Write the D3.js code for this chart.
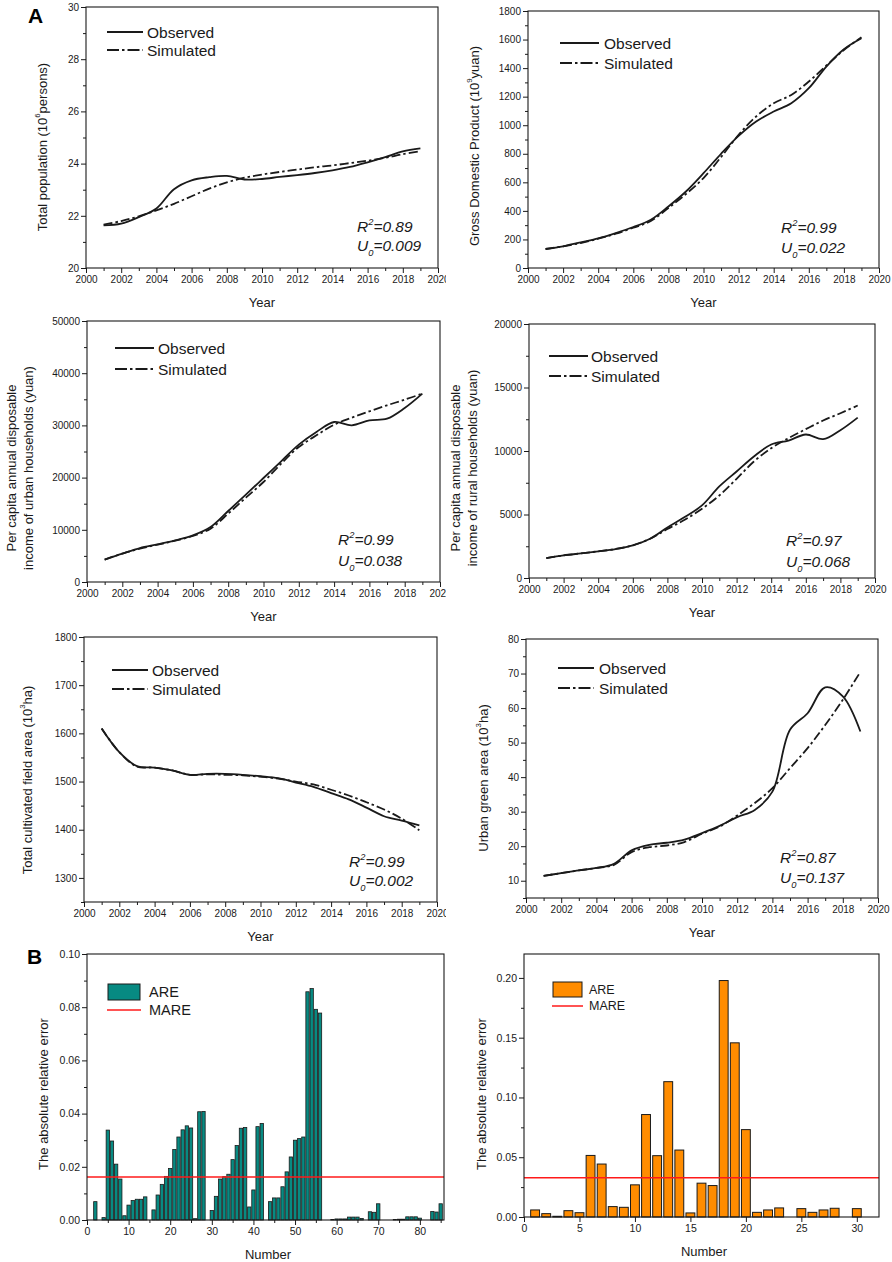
<!DOCTYPE html>
<html><head><meta charset="utf-8">
<script src="https://cdn.jsdelivr.net/npm/d3@7"></script>
<style>
body{margin:0;background:#fff}
svg{display:block;font-family:"Liberation Sans",Arial,Helvetica,sans-serif}
</style>
</head><body>
<svg id="c" width="892" height="1262"></svg>
<script>
// ---------------- DATA ----------------
const years = [2001,2002,2003,2004,2005,2006,2007,2008,2009,2010,2011,2012,2013,2014,2015,2016,2017,2018,2019];

const populationObserved = [21.63,21.70,21.95,22.28,23.02,23.36,23.48,23.53,23.39,23.41,23.49,23.56,23.64,23.74,23.87,24.05,24.25,24.47,24.58];
const populationSimulated = [21.66,21.80,21.98,22.21,22.46,22.75,23.04,23.28,23.46,23.58,23.68,23.77,23.86,23.93,24.02,24.11,24.22,24.36,24.47];

const gdpObserved = [133,152,180,208,245,287,338,431,536,664,800,925,1026,1096,1154,1259,1411,1532,1609];
const gdpSimulated = [133,152,175,205,240,282,329,420,518,630,777,933,1061,1154,1212,1306,1418,1527,1616];

const urbanIncomeObserved = [4280,5430,6510,7215,7980,8940,10540,13600,16730,19920,23120,26310,28740,30650,30010,30970,31290,33330,36080];
const urbanIncomeSimulated = [4280,5430,6390,7150,7920,8810,10220,13090,16160,19160,22670,25860,28100,30140,31480,32700,33850,34930,36080];

const ruralIncomeObserved = [1573,1782,1940,2097,2280,2569,3093,3985,4797,5714,7209,8388,9567,10510,10825,11300,10930,11640,12630];
const ruralIncomeSimulated = [1573,1782,1940,2097,2280,2569,3093,3853,4587,5452,6500,7810,9175,10220,11010,11720,12400,12975,13580];

const cultivatedObserved = [1610,1561,1532,1529,1523,1514,1516,1516,1514,1511,1507,1498,1489,1476,1463,1446,1428,1419,1409];
const cultivatedSimulated = [1610,1561,1531,1529,1523,1514,1515,1514,1513,1510,1506,1500,1494,1483,1471,1457,1442,1423,1399];

const greenObserved = [11.4,12.2,13.0,13.7,14.9,18.8,20.4,21.0,21.9,23.8,25.9,28.4,30.5,35.8,53.7,58.5,66.0,63.4,53.2];
const greenSimulated = [11.4,12.2,13.0,13.7,14.6,18.3,19.7,20.2,21.2,23.6,25.7,28.9,32.5,36.8,42.6,48.4,55.1,62.4,70.5];

const r2Values = ["0.89","0.99","0.99","0.97","0.99","0.87"];
const u0Values = ["0.009","0.022","0.038","0.068","0.002","0.137"];

const areNumbersA = [1,2,3,4,5,6,7,8,9,10,11,12,13,14,15,16,17,18,19,20,21,22,23,24,25,26,27,28,29,30,31,32,33,34,35,36,37,38,39,40,41,42,43,44,45,46,47,48,49,50,51,52,53,54,55,56,57,58,59,60,61,62,63,64,65,66,67,68,69,70,71,72,73,74,75,76,77,78,79,80,81,82,83,84,85];
const areValuesA = [0,0.0069,0,0.0009,0.0338,0.0297,0.0210,0.0154,0.0016,0.0056,0.0073,0.0078,0.0078,0.0087,0,0.0038,0.0094,0.0134,0.0164,0.0194,0.0265,0.0312,0.0339,0.0354,0.0346,0.0005,0.0407,0.0408,0,0.0036,0.0089,0.0154,0.0163,0.0172,0.0227,0.0280,0.0345,0.0348,0.0049,0.0113,0.0351,0.0363,0,0.0069,0.0083,0.0083,0.0125,0.0181,0.0237,0.0300,0.0306,0.0312,0.0858,0.0870,0.0792,0.0778,0,0,0.0002,0.0004,0.0004,0.0004,0.0011,0.0011,0.0011,0.0006,0,0.0031,0.0029,0.0061,0,0,0,0.0002,0.0003,0.0003,0.0012,0.0012,0.0012,0.0007,0,0,0.0032,0.0030,0.0061];
const mareA = 0.0162;

const areNumbersB = [1,2,3,4,5,6,7,8,9,10,11,12,13,14,15,16,17,18,19,20,21,22,23,24,25,26,27,28,29,30];
const areValuesB = [0.0059,0.0028,0.0006,0.0053,0.0036,0.0515,0.0443,0.0087,0.0081,0.0269,0.0857,0.0513,0.1132,0.0560,0.0034,0.0283,0.0263,0.1978,0.1457,0.0731,0.0039,0.0059,0.0076,0,0.0070,0.0039,0.0059,0.0073,0,0.0070];
const mareB = 0.0328;

const xYearMajor = [2000,2002,2004,2006,2008,2010,2012,2014,2016,2018,2020];
const xYearMinor = [2001,2003,2005,2007,2009,2011,2013,2015,2017,2019];

// ---------------- DRAW ----------------
const svg = d3.select("#c");
const defs = svg.append("defs");
defs.append("clipPath").attr("id","clipL").append("rect").attr("x",0).attr("y",0).attr("width",446).attr("height",1262);

const INK = "#1a1a1a";

function styleAxis(sel, fs){
  sel.select(".domain").remove();
  sel.selectAll(".tick line").attr("stroke",INK).attr("stroke-width",1);
  sel.selectAll(".tick text").attr("fill",INK).attr("font-size",fs).attr("font-family",null);
}

function addTexts(g, x, y, parts, fs, extra){
  const t = g.append("text").attr("x",x).attr("y",y).attr("font-size",fs).attr("fill",INK);
  if (extra) extra(t);
  parts.forEach(p=>{
    const s = t.append("tspan").text(p.t);
    if (p.sup){ s.attr("font-size",fs*0.6).attr("dy",-fs*0.4); }
    else if (p.sub){ s.attr("font-size",fs*0.6).attr("dy",fs*0.35); }
    if (p.back) s.attr("dy",p.back);
  });
  return t;
}

function axesFrame(g, x, y, p, xMaj, xMin, xFmt, yMaj, yMin, yFmt, fs){
  const b = g.append("g").attr("transform",`translate(0,${p.b})`)
    .call(d3.axisBottom(x).tickValues(xMin).tickSize(3).tickFormat(""));
  styleAxis(b, fs);
  const b2 = g.append("g").attr("transform",`translate(0,${p.b})`)
    .call(d3.axisBottom(x).tickValues(xMaj).tickSize(5).tickPadding(3).tickFormat(xFmt));
  styleAxis(b2, fs);
  const l = g.append("g").attr("transform",`translate(${p.l},0)`)
    .call(d3.axisLeft(y).tickValues(yMin).tickSize(3).tickFormat(""));
  styleAxis(l, fs);
  const l2 = g.append("g").attr("transform",`translate(${p.l},0)`)
    .call(d3.axisLeft(y).tickValues(yMaj).tickSize(5).tickPadding(2).tickFormat(yFmt));
  styleAxis(l2, fs);
  g.append("rect").attr("x",p.l).attr("y",p.t).attr("width",p.r-p.l).attr("height",p.b-p.t)
    .attr("fill","none").attr("stroke",INK).attr("stroke-width",1.1);
}

function drawLinePanel(p){
  const g = svg.append("g");
  if (p.clip) g.attr("clip-path","url(#clipL)");
  const x = d3.scaleLinear().domain([2000,2020]).range([p.l,p.r]);
  const y = d3.scaleLinear().domain(p.yd).range([p.b,p.t]);
  axesFrame(g, x, y, p, xYearMajor, xYearMinor, d3.format("d"), p.yMaj, p.yMin, d3.format("d"), 10);

  const line = d3.line().x((d,i)=>x(years[i])).y(d=>y(d)).curve(d3.curveCatmullRom.alpha(0.5));
  g.append("path").attr("d",line(p.sim)).attr("fill","none").attr("stroke",INK)
    .attr("stroke-width",1.8).attr("stroke-dasharray","9,3,2.5,3");
  g.append("path").attr("d",line(p.obs)).attr("fill","none").attr("stroke",INK).attr("stroke-width",1.8);

  // legend
  g.append("line").attr("x1",p.lg[0]).attr("x2",p.lg[1]).attr("y1",p.lg[3]).attr("y2",p.lg[3])
    .attr("stroke",INK).attr("stroke-width",1.8);
  g.append("line").attr("x1",p.lg[0]).attr("x2",p.lg[1]).attr("y1",p.lg[4]).attr("y2",p.lg[4])
    .attr("stroke",INK).attr("stroke-width",1.8).attr("stroke-dasharray","12,3,2.5,3");
  g.append("text").attr("x",p.lg[2]).attr("y",p.lg[3]+5.5).attr("font-size",15.5).attr("fill",INK).text("Observed");
  g.append("text").attr("x",p.lg[2]).attr("y",p.lg[4]+5.5).attr("font-size",15.5).attr("fill",INK).text("Simulated");

  // stats
  const it = t=>t.attr("font-style","italic");
  addTexts(g, p.st[0], p.st[1]+5.5, [{t:"R"},{t:"2",sup:true},{t:"="+r2Values[p.idx], back:15.5*0.4}], 15.5, it);
  addTexts(g, p.st[0], p.st[2]+5.5, [{t:"U"},{t:"0",sub:true},{t:"="+u0Values[p.idx], back:-15.5*0.35}], 15.5, it);

  // x title
  g.append("text").attr("x",(p.l+p.r)/2).attr("y",p.b+34).attr("text-anchor","middle")
    .attr("dominant-baseline","central").attr("font-size",13).attr("fill",INK).text("Year");
  // y title
  p.yl.forEach(L=>{
    addTexts(g, 0, 0, L.parts, 13, t=>t.attr("text-anchor","middle").attr("dominant-baseline","central")
      .attr("transform",`translate(${L.x},${p.ycy}) rotate(-90)`));
  });
}

const panels = [
  {idx:0, clip:true, l:86,r:438,t:7,b:268, yd:[20,30], yMaj:[20,22,24,26,28,30], yMin:[21,23,25,27,29],
   obs:populationObserved, sim:populationSimulated, lg:[107,143,147,32,50], st:[357,226,245], ycy:147,
   yl:[{x:42, parts:[{t:"Total population (10"},{t:"6",sup:true},{t:"persons)",back:13*0.4}]}]},
  {idx:1, clip:false, l:528,r:879,t:11,b:268, yd:[0,1800], yMaj:[0,200,400,600,800,1000,1200,1400,1600,1800], yMin:[100,300,500,700,900,1100,1300,1500,1700],
   obs:gdpObserved, sim:gdpSimulated, lg:[560,599,604,43,63], st:[781,227,247], ycy:146,
   yl:[{x:474, parts:[{t:"Gross Domestic Product (10"},{t:"9",sup:true},{t:"yuan)",back:13*0.4}]}]},
  {idx:2, clip:true, l:87,r:440,t:321,b:582, yd:[0,50000], yMaj:[0,10000,20000,30000,40000,50000], yMin:[5000,15000,25000,35000,45000],
   obs:urbanIncomeObserved, sim:urbanIncomeSimulated, lg:[115,154,158,348,369], st:[338,539,560], ycy:468,
   yl:[{x:11, parts:[{t:"Per capita annual disposable"}]},{x:28, parts:[{t:"income of urban households (yuan)"}]}]},
  {idx:3, clip:false, l:529,r:875,t:324,b:578, yd:[0,20000], yMaj:[0,5000,10000,15000,20000], yMin:[2500,7500,12500,17500],
   obs:ruralIncomeObserved, sim:ruralIncomeSimulated, lg:[549,588,591,356,376], st:[786,540,561], ycy:468,
   yl:[{x:455, parts:[{t:"Per capita annual disposable"}]},{x:472, parts:[{t:"income of rural households (yuan)"}]}]},
  {idx:4, clip:true, l:84,r:437,t:637,b:902, yd:[1250,1800], yMaj:[1300,1400,1500,1600,1700,1800], yMin:[1250,1350,1450,1550,1650,1750],
   obs:cultivatedObserved, sim:cultivatedSimulated, lg:[112,148,152,670,689], st:[349,861,880], ycy:780,
   yl:[{x:27, parts:[{t:"Total cultivated field area (10"},{t:"3",sup:true},{t:"ha)",back:13*0.4}]}]},
  {idx:5, clip:false, l:526,r:878,t:639,b:898, yd:[5,80], yMaj:[10,20,30,40,50,60,70,80], yMin:[5,15,25,35,45,55,65,75],
   obs:greenObserved, sim:greenSimulated, lg:[558,594,599,668,688], st:[780,857,877], ycy:778,
   yl:[{x:483, parts:[{t:"Urban green area (10"},{t:"3",sup:true},{t:"ha)",back:13*0.4}]}]}
];
panels.forEach(drawLinePanel);

function drawBarPanel(p){
  const g = svg.append("g");
  const x = d3.scaleLinear().domain([0,p.xmax]).range([p.l,p.r]);
  const y = d3.scaleLinear().domain([0,p.ymax]).range([p.b,p.t]);
  const bw = x(0.8)-x(0);
  g.selectAll("rect.bar").data(p.vals.map((v,i)=>({n:p.nums[i],v})).filter(d=>d.v>0)).enter()
    .append("rect").attr("class","bar")
    .attr("x",d=>x(d.n)-bw/2).attr("width",bw)
    .attr("y",d=>y(d.v)).attr("height",d=>y(0)-y(d.v))
    .attr("fill",p.color).attr("stroke",INK).attr("stroke-width",p.sw);
  g.append("line").attr("x1",p.l).attr("x2",p.r).attr("y1",y(p.mare)).attr("y2",y(p.mare))
    .attr("stroke","#ff1a1a").attr("stroke-width",1.5);
  axesFrame(g, x, y, p, p.xMaj, p.xMin, d3.format("d"), p.yMaj, p.yMin, d3.format(".2f"), 10.5);

  // legend
  g.append("rect").attr("x",p.lg.rx).attr("y",p.lg.ry).attr("width",p.lg.rw).attr("height",p.lg.rh)
    .attr("fill",p.color).attr("stroke",INK).attr("stroke-width",1);
  g.append("text").attr("x",p.lg.tx).attr("y",p.lg.ry+p.lg.rh/2).attr("dominant-baseline","central")
    .attr("font-size",p.lg.fs).attr("fill",INK).text("ARE");
  g.append("line").attr("x1",p.lg.rx-1).attr("x2",p.lg.rx+p.lg.rw+1).attr("y1",p.lg.my).attr("y2",p.lg.my)
    .attr("stroke","#ff1a1a").attr("stroke-width",1.5);
  g.append("text").attr("x",p.lg.tx).attr("y",p.lg.my).attr("dominant-baseline","central")
    .attr("font-size",p.lg.fs).attr("fill",INK).text("MARE");

  g.append("text").attr("x",p.nx).attr("y",p.ny).attr("text-anchor","middle").attr("dominant-baseline","central")
    .attr("font-size",13).attr("fill",INK).text("Number");
  g.append("text").attr("text-anchor","middle").attr("dominant-baseline","central")
    .attr("transform",`translate(${p.ylx},${p.ycy}) rotate(-90)`).attr("font-size",13).attr("fill",INK)
    .text("The absolute relative error");
}

drawBarPanel({l:87,r:444,t:954,b:1220, xmax:85.8, ymax:0.10, nums:areNumbersA, vals:areValuesA, mare:mareA,
  color:"#078a82", sw:0.8, xMaj:[0,10,20,30,40,50,60,70,80], xMin:[5,15,25,35,45,55,65,75,85],
  yMaj:[0,0.02,0.04,0.06,0.08,0.10], yMin:[0.01,0.03,0.05,0.07,0.09],
  lg:{rx:108,ry:984,rw:32,rh:16,tx:149,my:1010,fs:14.5}, nx:268, ny:1254, ylx:43, ycy:1094});

drawBarPanel({l:524,r:879,t:954,b:1217, xmax:32, ymax:0.22, nums:areNumbersB, vals:areValuesB, mare:mareB,
  color:"#ff8c00", sw:1, xMaj:[0,5,10,15,20,25,30], xMin:[],
  yMaj:[0,0.05,0.10,0.15,0.20], yMin:[0.025,0.075,0.125,0.175],
  lg:{rx:553,ry:982,rw:29,rh:15,tx:589,my:1006,fs:12.5}, nx:704, ny:1251, ylx:481, ycy:1094});

// panel letters
svg.append("text").attr("x",28).attr("y",23).attr("font-size",21).attr("font-weight","bold").attr("fill","#000").text("A");
svg.append("text").attr("x",27).attr("y",964).attr("font-size",21).attr("font-weight","bold").attr("fill","#000").text("B");
</script>
</body></html>
